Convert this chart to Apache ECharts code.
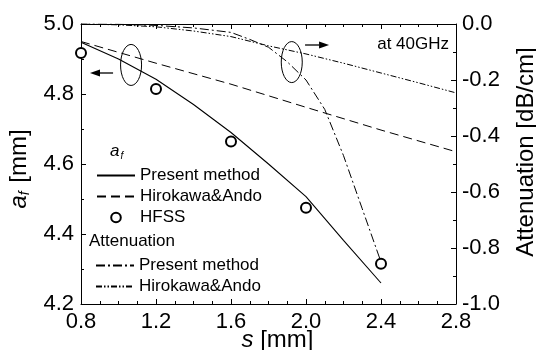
<!DOCTYPE html>
<html>
<head>
<meta charset="utf-8">
<script src="https://cdn.jsdelivr.net/npm/echarts@6/dist/echarts.min.js"></script>
<style>html,body{margin:0;padding:0;background:#fff}#c{width:536px;height:350px}</style>
</head>
<body>
<div id="c"></div>
<script>
// ---- data ----
const sPresent = [0.8, 1.0, 1.2, 1.4, 1.6, 1.8, 2.0, 2.2, 2.4];
const afPresent = [4.948, 4.900, 4.842, 4.770, 4.690, 4.600, 4.507, 4.382, 4.260];
const sHirokawa = [0.8, 1.2, 1.6, 2.0, 2.4, 2.8];
const afHirokawa = [4.950, 4.888, 4.828, 4.762, 4.697, 4.635];
const sHFSS = [0.8, 1.2, 1.6, 2.0, 2.4];
const afHFSS = [4.917, 4.814, 4.664, 4.475, 4.315];
const sAttPresent = [0.8, 1.0, 1.2, 1.4, 1.6, 1.7, 1.8, 1.9, 2.0, 2.1, 2.2, 2.3, 2.4];
const attPresent = [0, -0.001, -0.005, -0.014, -0.030, -0.055, -0.083, -0.135, -0.200, -0.305, -0.470, -0.660, -0.850];
const sAttHirokawa = [0.8, 1.0, 1.2, 1.4, 1.6, 1.8, 2.0, 2.2, 2.4, 2.6, 2.8];
const attHirokawa = [0, -0.003, -0.010, -0.025, -0.045, -0.078, -0.107, -0.140, -0.175, -0.210, -0.246];
const xTicks = ['0.8', '1.2', '1.6', '2.0', '2.4', '2.8'];
const legendLabels = {
  afPresent: 'Present method', afHirokawa: 'Hirokawa&Ando', hfss: 'HFSS',
  attPresent: 'Present method', attHirokawa: 'Hirokawa&Ando'
};
// annotations (data coordinates)
const afEllipses = [[1.067, 4.883]];      // on a_f axis
const attEllipses = [[1.924, -0.136]];    // on attenuation axis
const afArrows = [[0.971, 4.86, 0.848, 4.86]];
const attArrows = [[1.995, -0.075, 2.123, -0.075]];
const noteText = 'at 40GHz';

const FONT = '"Liberation Sans", Arial, Helvetica, sans-serif';
const pairs = (xs, ys) => xs.map((x, i) => [x, ys[i]]);

const chart = echarts.init(document.getElementById('c'), null, {renderer: 'canvas'});

function axisBase(extra, minorSplit) {
  return Object.assign({
    axisLine: {show: true, onZero: false, lineStyle: {color: '#000', width: 1}},
    axisTick: {show: true, inside: true, length: 5, lineStyle: {color: '#000', width: 1}},
    minorTick: {show: true, splitNumber: minorSplit, length: 3, lineStyle: {color: '#000', width: 1}},
    splitLine: {show: false}
  }, extra);
}

function ellipseItem(params, api) {
  const p = api.coord([api.value(0), api.value(1)]);
  return {type: 'ellipse', shape: {cx: p[0], cy: p[1], rx: 10.5, ry: 20.5},
          style: {fill: 'none', stroke: '#000', lineWidth: 1}};
}
function arrowItem(params, api) {
  const p0 = api.coord([api.value(0), api.value(1)]);
  const p1 = api.coord([api.value(2), api.value(3)]);
  const dir = Math.sign(p1[0] - p0[0]);
  const headLen = 10, headHalf = 3.5;
  return {type: 'group', children: [
    {type: 'line', shape: {x1: p0[0], y1: p0[1], x2: p1[0] - dir * headLen, y2: p1[1]},
     style: {stroke: '#000', lineWidth: 1.3}},
    {type: 'polygon', shape: {points: [[p1[0], p1[1]], [p1[0] - dir * headLen, p1[1] - headHalf], [p1[0] - dir * headLen, p1[1] + headHalf]]},
     style: {fill: '#000'}}
  ]};
}

const option = {
  animation: false,
  backgroundColor: '#fff',
  grid: {left: 81, right: 80, top: 24, bottom: 46, containLabel: false, outerBoundsMode: 'none'},
  xAxis: [
    axisBase({
      type: 'value', position: 'bottom', min: 0.8, max: 2.8, interval: 0.4,
      axisLabel: {show: true, margin: 7, color: '#000', fontSize: 22, fontFamily: FONT,
        formatter: (v) => xTicks.find(t => Math.abs(parseFloat(t) - v) < 1e-6) || v.toFixed(1)},
      name: '{i|s} [mm]', nameLocation: 'middle', nameGap: 24, nameMoveOverlap: false,
      nameTextStyle: {color: '#000', fontSize: 24, fontFamily: FONT, padding: [0, 0, 0, 18],
        rich: {i: {fontStyle: 'italic', fontSize: 24, fontFamily: FONT, color: '#000'}}}
    }, 4),
    axisBase({
      type: 'value', position: 'top', min: 0.8, max: 2.8, interval: 0.4,
      axisLabel: {show: false}
    }, 4)
  ],
  yAxis: [
    axisBase({
      type: 'value', position: 'left', min: 4.2, max: 5.0, interval: 0.2,
      axisLabel: {margin: 7, color: '#000', fontSize: 22, fontFamily: FONT, formatter: (v) => v.toFixed(1)},
      name: '{i|a}{sub|f} [mm]', nameLocation: 'middle', nameGap: 46,
      nameTextStyle: {color: '#000', fontSize: 24, fontFamily: FONT, padding: [0, 10, 0, 0],
        rich: {i: {fontStyle: 'italic', fontSize: 24, fontFamily: FONT, color: '#000'},
               sub: {fontStyle: 'italic', fontSize: 14, fontFamily: FONT, color: '#000', padding: [12, 2, 0, 0]}}}
    }, 2),
    axisBase({
      type: 'value', position: 'right', min: -1.0, max: 0.0, interval: 0.2,
      axisLabel: {margin: 6, color: '#000', fontSize: 22, fontFamily: FONT, formatter: (v) => v.toFixed(1)},
      name: 'Attenuation [dB/cm]', nameLocation: 'middle', nameGap: 58,
      nameTextStyle: {color: '#000', fontSize: 24, fontFamily: FONT, padding: [0, 0, 0, 24]}
    }, 2)
  ],
  legend: [
    {
      data: [
        {name: 'afPresent', itemStyle: {opacity: 0}},
        {name: 'afHirokawa', itemStyle: {opacity: 0}},
        {name: 'hfss'}
      ], orient: 'vertical', left: 91, top: 162,
      itemWidth: 38, itemHeight: 12, itemGap: 4, selectedMode: false,
      formatter: (n) => legendLabels[n],
      textStyle: {color: '#000', fontSize: 17, fontFamily: FONT}
    },
    {
      data: [
        {name: 'attPresent', itemStyle: {opacity: 0}},
        {name: 'attHirokawa', itemStyle: {opacity: 0}}
      ], orient: 'vertical', left: 90, top: 252,
      itemWidth: 38, itemHeight: 12, itemGap: 4, selectedMode: false,
      formatter: (n) => legendLabels[n],
      textStyle: {color: '#000', fontSize: 17, fontFamily: FONT}
    }
  ],
  graphic: [
    {type: 'text', right: 87, top: 36, style: {text: noteText, fill: '#000', font: '17px ' + FONT}},
    {type: 'text', left: 110, top: 143, style: {rich: {a: {fontStyle: 'italic', fontSize: 17, fontFamily: FONT, fill: '#000'}, f: {fontStyle: 'italic', fontSize: 10, fontFamily: FONT, fill: '#000', padding: [9, 0, 0, 1]}},
       text: '{a|a}{f|f}'}},
    {type: 'text', left: 89, top: 233, style: {text: 'Attenuation', fill: '#000', font: '17px ' + FONT}}
  ],
  series: [
    {name: 'afPresent', type: 'line', xAxisIndex: 0, yAxisIndex: 0, data: pairs(sPresent, afPresent),
     symbol: 'none', lineStyle: {color: '#000', width: 1.1, type: 'solid'}, itemStyle: {color: '#000'}},
    {name: 'afHirokawa', type: 'line', xAxisIndex: 0, yAxisIndex: 0, data: pairs(sHirokawa, afHirokawa),
     symbol: 'none', lineStyle: {color: '#000', width: 1, type: [9, 5]}, itemStyle: {color: '#000'}},
    {name: 'hfss', type: 'line', xAxisIndex: 0, yAxisIndex: 0, data: pairs(sHFSS, afHFSS),
     symbol: 'emptyCircle', symbolSize: 10, showAllSymbol: true,
     lineStyle: {opacity: 0, width: 0}, itemStyle: {color: '#000', borderColor: '#000', borderWidth: 1}},
    {name: 'attPresent', type: 'line', xAxisIndex: 0, yAxisIndex: 1, data: pairs(sAttPresent, attPresent),
     symbol: 'none', lineStyle: {color: '#000', width: 1, type: [9, 3, 2, 3]}, itemStyle: {color: '#000'}},
    {name: 'attHirokawa', type: 'line', xAxisIndex: 0, yAxisIndex: 1, data: pairs(sAttHirokawa, attHirokawa),
     symbol: 'none', lineStyle: {color: '#000', width: 1, type: [6, 2, 1.5, 2, 1.5, 2]}, itemStyle: {color: '#000'}},
    {name: 'annotEllipseAf', type: 'custom', xAxisIndex: 0, yAxisIndex: 0, data: afEllipses, renderItem: ellipseItem, silent: true},
    {name: 'annotEllipseAtt', type: 'custom', xAxisIndex: 0, yAxisIndex: 1, data: attEllipses, renderItem: ellipseItem, silent: true},
    {name: 'annotArrowAf', type: 'custom', xAxisIndex: 0, yAxisIndex: 0, data: afArrows, renderItem: arrowItem, silent: true},
    {name: 'annotArrowAtt', type: 'custom', xAxisIndex: 0, yAxisIndex: 1, data: attArrows, renderItem: arrowItem, silent: true}
  ]
};
chart.setOption(option);
</script>
</body>
</html>
